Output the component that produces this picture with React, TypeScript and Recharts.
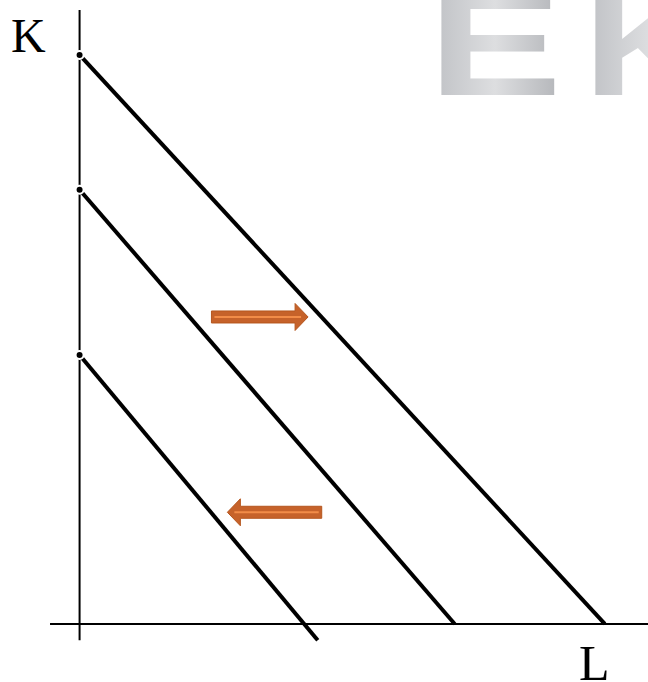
import { LineChart, Line, XAxis, YAxis, ReferenceLine } from 'recharts'

// isocost lines, each given by its two end points (L, K)
const isocostHigh = [{ L: 0, K: 9.12 }, { L: 9.24, K: 0 }]
const isocostMid = [{ L: 0, K: 6.96 }, { L: 6.6, K: 0 }]
const isocostLow = [{ L: 0, K: 4.31 }, { L: 4.19, K: -0.26 }]

// shift arrows: tail -> tip along L, at height K
const shiftRight = { from: 2.32, to: 4.02, K: 4.92 }
const shiftLeft = { from: 4.26, to: 2.6, K: 1.79 }

// axis extents
const kAxis = { bottom: -0.26, top: 9.84 }
const lAxis = { left: -0.52, right: 10 }

const W = 648
const H = 682

const ORANGE = '#C6622A'
const ORANGE_LIGHT = '#F28C48'

function Arrow(props: any) {
  const { x1, y1, x2 } = props
  const y = y1
  const dir = x2 > x1 ? 1 : -1
  const head = 13
  const shaft = 6
  const wing = 13.5
  const hb = x2 - dir * head
  const pts = [
    [x1, y - shaft], [hb, y - shaft], [hb, y - wing], [x2, y],
    [hb, y + wing], [hb, y + shaft], [x1, y + shaft],
  ].map(p => p.join(',')).join(' ')
  return (
    <g>
      <polygon points={pts} fill={ORANGE} stroke="#B5561E" strokeWidth={1} strokeLinejoin="round" />
      <line x1={x1 + dir * 3} y1={y} x2={x2 - dir * 7} y2={y} stroke={ORANGE_LIGHT} strokeWidth={2} />
    </g>
  )
}

export default function App() {
  return (
    <div style={{ position: 'relative', width: W, height: H, background: '#fff' }}>
      <style>{`body{margin:0}`}</style>
      <svg width={W} height={H} style={{ position: 'absolute', left: 0, top: 0 }}>
        <defs>
          <linearGradient id="metal" x1="0" y1="0" x2="1" y2="0">
            <stop offset="0" stopColor="#BDBFC3" />
            <stop offset="0.5" stopColor="#DDDEE0" />
            <stop offset="1" stopColor="#B2B4B8" />
          </linearGradient>
        </defs>
        <text x={428} y={95} fontFamily="Liberation Sans" fontWeight="bold" fontSize={148}
          textLength={134} lengthAdjust="spacingAndGlyphs" fill="url(#metal)">E</text>
        <text x={583} y={95} fontFamily="Liberation Sans" fontWeight="bold" fontSize={148}
          textLength={134} lengthAdjust="spacingAndGlyphs" fill="url(#metal)">K</text>
        <text x={11} y={52} fontFamily="Liberation Serif" fontSize={48} fill="#000">K</text>
        <text x={579} y={680} fontFamily="Liberation Serif" fontSize={50} fill="#000">L</text>
      </svg>
      <div style={{ position: 'absolute', left: 0, top: 0 }}>
        <LineChart width={W} height={H} margin={{ top: 0, right: 0, bottom: 0, left: 0 }}>
          <XAxis type="number" dataKey="L" domain={[-1.4, 10]} allowDataOverflow hide />
          <YAxis type="number" dataKey="K" domain={[-0.93, 10]} allowDataOverflow hide />
          <ReferenceLine segment={[{ x: 0, y: kAxis.bottom }, { x: 0, y: kAxis.top }]}
            stroke="#000" strokeWidth={2} ifOverflow="visible" />
          <ReferenceLine segment={[{ x: lAxis.left, y: 0 }, { x: lAxis.right, y: 0 }]}
            stroke="#000" strokeWidth={2} ifOverflow="visible" />
          <Line data={isocostHigh} dataKey="K" stroke="#000" strokeWidth={4} dot={false} isAnimationActive={false} />
          <Line data={isocostMid} dataKey="K" stroke="#000" strokeWidth={4} dot={false} isAnimationActive={false} />
          <Line data={isocostLow} dataKey="K" stroke="#000" strokeWidth={4} dot={false} isAnimationActive={false} />
          <ReferenceLine segment={[{ x: shiftRight.from, y: shiftRight.K }, { x: shiftRight.to, y: shiftRight.K }]}
            ifOverflow="visible" shape={Arrow} />
          <ReferenceLine segment={[{ x: shiftLeft.from, y: shiftLeft.K }, { x: shiftLeft.to, y: shiftLeft.K }]}
            ifOverflow="visible" shape={Arrow} />
        </LineChart>
      </div>
    </div>
  )
}
